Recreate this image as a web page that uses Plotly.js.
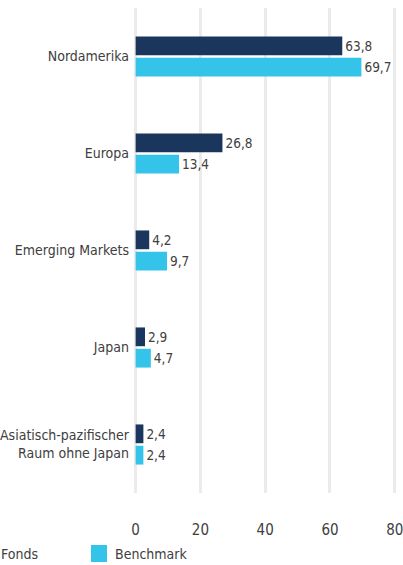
<!DOCTYPE html>
<html>
<head>
<meta charset="utf-8">
<script src="https://cdn.plot.ly/plotly-3.0.1.min.js"></script>
<style>
  html, body { margin: 0; padding: 0; background: #fff; }
  #chart { width: 403px; height: 565px; }
</style>
</head>
<body>
<div id="chart"></div>
<script>
const categories = ["Nordamerika", "Europa", "Emerging Markets", "Japan", "Asiatisch-pazifischer<br>Raum ohne Japan"];
const fondsValues = [63.8, 26.8, 4.2, 2.9, 2.4];
const benchmarkValues = [69.7, 13.4, 9.7, 4.7, 2.4];
const seriesNames = ["Fonds", "Benchmark"];
const xTicks = [0, 20, 40, 60, 80];

const FONT = "'DejaVu Sans Condensed', 'Liberation Sans Narrow', sans-serif";
const TXT = "#404040";
const C_FONDS = "#1b365d";
const C_BENCH = "#35c4e9";

const fmt = v => v.toFixed(1).replace(".", ",");

const traces = [
  {
    type: "bar", orientation: "h", name: seriesNames[0],
    y: categories, x: fondsValues,
    marker: { color: C_FONDS },
    text: fondsValues.map(fmt), textposition: "outside", cliponaxis: false,
    textfont: { family: FONT, size: 13.5, color: TXT },
    hoverinfo: "none", showlegend: false
  },
  {
    type: "bar", orientation: "h", name: seriesNames[1],
    y: categories, x: benchmarkValues,
    marker: { color: C_BENCH },
    text: benchmarkValues.map(fmt), textposition: "outside", cliponaxis: false,
    textfont: { family: FONT, size: 13.5, color: TXT },
    hoverinfo: "none", showlegend: false
  }
];

// plot area: left 134, width 264 (x range -0.5..81)
const L = 134, W = 264, T = 8, H = 485;
const px = p => (p - L) / W;
const py = p => 1 - (p - T) / H;

const layout = {
  width: 403, height: 565,
  margin: { l: L, r: 403 - L - W, t: T, b: 565 - T - H },
  paper_bgcolor: "#fff", plot_bgcolor: "#fff",
  font: { family: FONT, size: 14, color: TXT },
  barmode: "group", bargap: 0.56, bargroupgap: 0.12,
  showlegend: false,
  xaxis: {
    range: [-0.5, 81], tickvals: xTicks, ticktext: xTicks.map(String),
    showgrid: true, gridcolor: "#ebebeb", gridwidth: 3,
    zeroline: true, zerolinecolor: "#ebebeb", zerolinewidth: 3,
    showline: false, ticks: "", ticklabelstandoff: 26,
    ticklabeloverflow: "allow",
    tickfont: { family: FONT, size: 15, color: TXT }, fixedrange: true
  },
  yaxis: {
    type: "category", autorange: "reversed",
    showgrid: false, zeroline: false, showline: false,
    ticks: "", ticklabelstandoff: 4,
    tickfont: { family: FONT, size: 14, color: TXT }, fixedrange: true
  },
  shapes: [
    { type: "rect", xref: "paper", yref: "paper", x0: px(-25), x1: px(-9), y0: py(545), y1: py(562), fillcolor: C_FONDS, line: { width: 0 } },
    { type: "rect", xref: "paper", yref: "paper", x0: px(91), x1: px(107), y0: py(545), y1: py(562), fillcolor: C_BENCH, line: { width: 0 } }
  ],
  annotations: [
    { xref: "paper", yref: "paper", x: px(-1), y: py(553.5), xanchor: "left", yanchor: "middle", text: seriesNames[0], showarrow: false, font: { family: FONT, size: 14, color: TXT } },
    { xref: "paper", yref: "paper", x: px(113), y: py(553.5), xanchor: "left", yanchor: "middle", text: seriesNames[1], showarrow: false, font: { family: FONT, size: 14, color: TXT } }
  ]
};

Plotly.newPlot("chart", traces, layout, { displayModeBar: false, staticPlot: true });
</script>
</body>
</html>
